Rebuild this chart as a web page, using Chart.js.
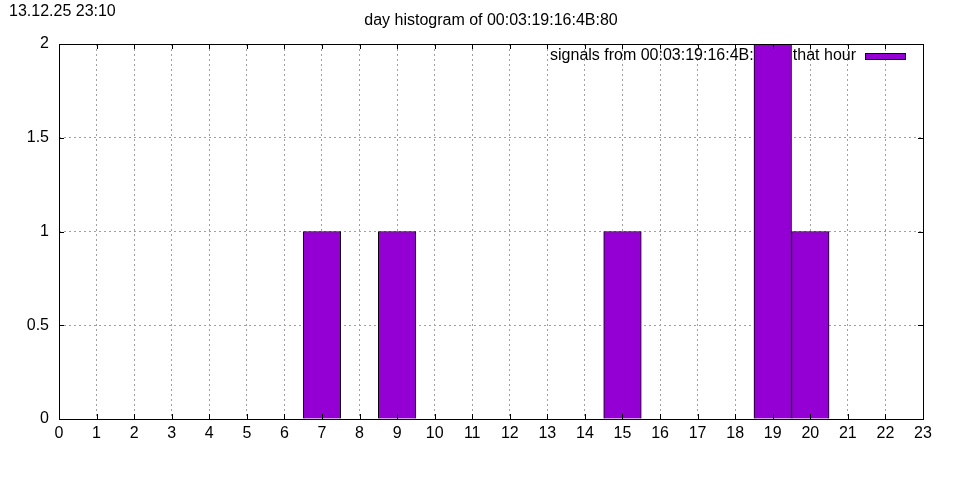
<!DOCTYPE html>
<html>
<head>
<meta charset="utf-8">
<script src="https://cdn.jsdelivr.net/npm/chart.js@4"></script>
<style>
  html, body { margin: 0; padding: 0; background: #fff; }
  #wrap { width: 960px; height: 480px; }
</style>
</head>
<body>
<div id="wrap"><canvas id="mychart" width="960" height="480"></canvas></div>
<script>
// dados
const horas = [7, 9, 15, 19, 20]
const sinais = [1, 1, 1, 2, 1]
const yTicks = [0, 0.5, 1, 1.5, 2]

const titulo = 'day histogram of 00:03:19:16:4B:80'
const dataHora = '13.12.25 23:10'
const legenda = 'signals from 00:03:19:16:4B:80 in that hour'

const roxo = '#9400d3'
const fonte = '"Liberation Sans", Arial, sans-serif'

const ctx = document.getElementById('mychart').getContext('2d')

// titulo, data e legenda (desenhada antes das barras, como no gnuplot)
const extras = {
    id: 'extras',
    beforeDatasetsDraw(chart) {
        const c = chart.ctx
        c.save()
        c.font = '16px ' + fonte
        c.fillStyle = '#000'
        c.textBaseline = 'middle'
        c.textAlign = 'right'
        c.fillText(legenda, 856, 56)
        c.fillStyle = roxo
        c.fillRect(865.5, 53.5, 40, 6)
        c.strokeStyle = '#000'
        c.lineWidth = 1
        c.strokeRect(865.5, 53.5, 40, 6)
        c.restore()
    },
    afterDraw(chart) {
        const c = chart.ctx
        const a = chart.chartArea
        const x = chart.scales.x
        const y = chart.scales.y
        c.save()
        c.fillStyle = '#000'
        c.textBaseline = 'middle'
        c.font = '16px ' + fonte
        c.textAlign = 'left'
        c.fillText(dataHora, 9, 12)
        c.textAlign = 'center'
        c.fillText(titulo, (a.left + a.right) / 2, 21)

        // moldura e ticks para dentro
        c.strokeStyle = '#000'
        c.lineWidth = 1
        c.beginPath()
        for (let h = 0; h <= 23; h++) {
            const px = Math.round(x.getPixelForValue(h)) + 0.5
            c.moveTo(px, a.bottom); c.lineTo(px, a.bottom - 5)
            c.moveTo(px, a.top); c.lineTo(px, a.top + 5)
        }
        yTicks.forEach(v => {
            const py = Math.round(y.getPixelForValue(v)) + 0.5
            c.moveTo(a.left, py); c.lineTo(a.left + 5, py)
            c.moveTo(a.right, py); c.lineTo(a.right - 5, py)
        })
        c.stroke()
        c.strokeRect(Math.round(a.left) + 0.5, Math.round(a.top) + 0.5,
            Math.round(a.right - a.left), Math.round(a.bottom - a.top))
        c.restore()
    }
}

new Chart(ctx, {
    type: 'bar',
    data: {
        datasets: [{
            label: legenda,
            data: horas.map((h, i) => ({ x: h, y: sinais[i] })),
            backgroundColor: roxo,
            borderColor: '#000',
            borderWidth: 1,
            borderSkipped: 'start',
            barPercentage: 1,
            categoryPercentage: 1
        }]
    },
    options: {
        responsive: false,
        animation: false,
        devicePixelRatio: 1,
        layout: { padding: { left: 0, right: 37, top: 44, bottom: 0 } },
        plugins: {
            legend: { display: false },
            title: { display: false },
            tooltip: { enabled: false }
        },
        scales: {
            x: {
                type: 'linear',
                min: 0,
                max: 23,
                offset: false,
                afterFit(s) { s.height = 61 },
                ticks: {
                    stepSize: 1,
                    autoSkip: false,
                    maxRotation: 0,
                    padding: 5,
                    color: '#000',
                    font: { family: fonte, size: 16 }
                },
                grid: {
                    offset: false,
                    color: '#a0a0a0',
                    drawTicks: false,
                    tickLength: 0
                },
                border: { display: false, dash: [2, 3] }
            },
            y: {
                min: 0,
                max: 2,
                afterFit(s) { s.width = 59 },
                ticks: {
                    stepSize: 0.5,
                    padding: 10,
                    color: '#000',
                    font: { family: fonte, size: 16 },
                    callback: v => String(v)
                },
                grid: {
                    color: '#a0a0a0',
                    drawTicks: false,
                    tickLength: 0
                },
                border: { display: false, dash: [2, 3] }
            }
        }
    },
    plugins: [extras]
})
</script>
</body>
</html>
